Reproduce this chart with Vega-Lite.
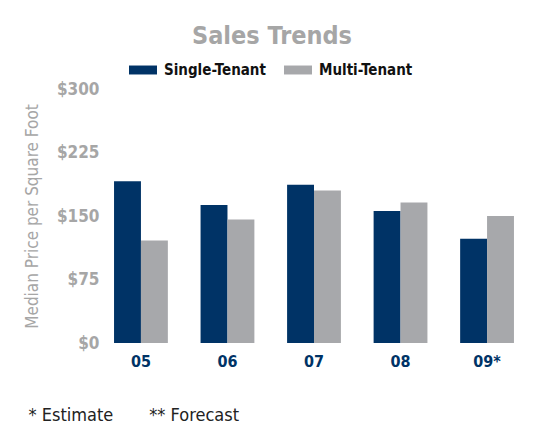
{
  "$schema": "https://vega.github.io/schema/vega-lite/v6.json",
  "width": 420,
  "height": 254,
  "autosize": "none",
  "padding": {"left": 104, "top": 89, "right": 16, "bottom": 93},
  "background": "white",
  "title": {
    "text": "Sales Trends",
    "font": "DejaVu Sans Condensed, DejaVu Sans",
    "fontSize": 25,
    "fontWeight": "bold",
    "color": "#A6A6A6",
    "anchor": "middle",
    "offset": 7,
    "dx": -42
  },
  "data": {
    "values": [
      {"year": "05", "series": "Single-Tenant", "price": 191},
      {"year": "05", "series": "Multi-Tenant", "price": 121},
      {"year": "06", "series": "Single-Tenant", "price": 163},
      {"year": "06", "series": "Multi-Tenant", "price": 146},
      {"year": "07", "series": "Single-Tenant", "price": 187},
      {"year": "07", "series": "Multi-Tenant", "price": 180},
      {"year": "08", "series": "Single-Tenant", "price": 156},
      {"year": "08", "series": "Multi-Tenant", "price": 166},
      {"year": "09*", "series": "Single-Tenant", "price": 123},
      {"year": "09*", "series": "Multi-Tenant", "price": 150}
    ]
  },
  "mark": {"type": "bar"},
  "encoding": {
    "x": {
      "field": "year",
      "type": "nominal",
      "sort": null,
      "scale": {"paddingInner": 0.378, "paddingOuter": 0.116},
      "axis": {
        "title": "* Estimate\u00a0\u00a0\u00a0\u00a0\u00a0\u00a0\u00a0** Forecast",
        "titleX": -76,
        "titleY": 77,
        "titleAlign": "left",
        "titleBaseline": "alphabetic",
        "titleFont": "DejaVu Sans Condensed, DejaVu Sans",
        "titleFontSize": 18,
        "titleFontWeight": "normal",
        "titleColor": "#222222",
        "labelAngle": 0,
        "labelFont": "DejaVu Sans Condensed, DejaVu Sans",
        "labelFontSize": 16,
        "labelFontWeight": "bold",
        "labelColor": "#003366",
        "labelPadding": 10,
        "ticks": false,
        "domain": false
      }
    },
    "xOffset": {
      "field": "series",
      "type": "nominal",
      "sort": ["Single-Tenant", "Multi-Tenant"],
      "scale": {"paddingInner": 0, "paddingOuter": 0}
    },
    "y": {
      "field": "price",
      "type": "quantitative",
      "scale": {"domain": [0, 300], "nice": false},
      "axis": {
        "title": "Median Price per Square Foot",
        "values": [0, 75, 150, 225, 300],
        "format": "$,d",
        "grid": false,
        "ticks": false,
        "domain": false,
        "labelFont": "DejaVu Sans Condensed, DejaVu Sans",
        "labelFontSize": 17,
        "labelFontWeight": "bold",
        "labelColor": "#A6A6A6",
        "labelPadding": 5,
        "titleFont": "DejaVu Sans Condensed, DejaVu Sans",
        "titleFontSize": 17,
        "titleFontWeight": "normal",
        "titleColor": "#A6A6A6",
        "titlePadding": 15
      }
    },
    "color": {
      "field": "series",
      "type": "nominal",
      "sort": ["Single-Tenant", "Multi-Tenant"],
      "scale": {"domain": ["Single-Tenant", "Multi-Tenant"], "range": ["#003366", "#A7A8AB"]},
      "legend": {
        "title": null,
        "orient": "none",
        "direction": "horizontal",
        "legendX": 25,
        "legendY": -33,
        "padding": 0,
        "symbolType": "M-1,-0.32H1V0.32H-1Z",
        "symbolSize": 784,
        "symbolStrokeWidth": 0,
        "symbolOpacity": 1,
        "labelFont": "DejaVu Sans Condensed, DejaVu Sans",
        "labelFontSize": 15,
        "labelFontWeight": "bold",
        "labelColor": "#111111",
        "labelOffset": 7,
        "columnPadding": 18
      }
    }
  },
  "config": {
    "view": {"stroke": null}
  }
}
